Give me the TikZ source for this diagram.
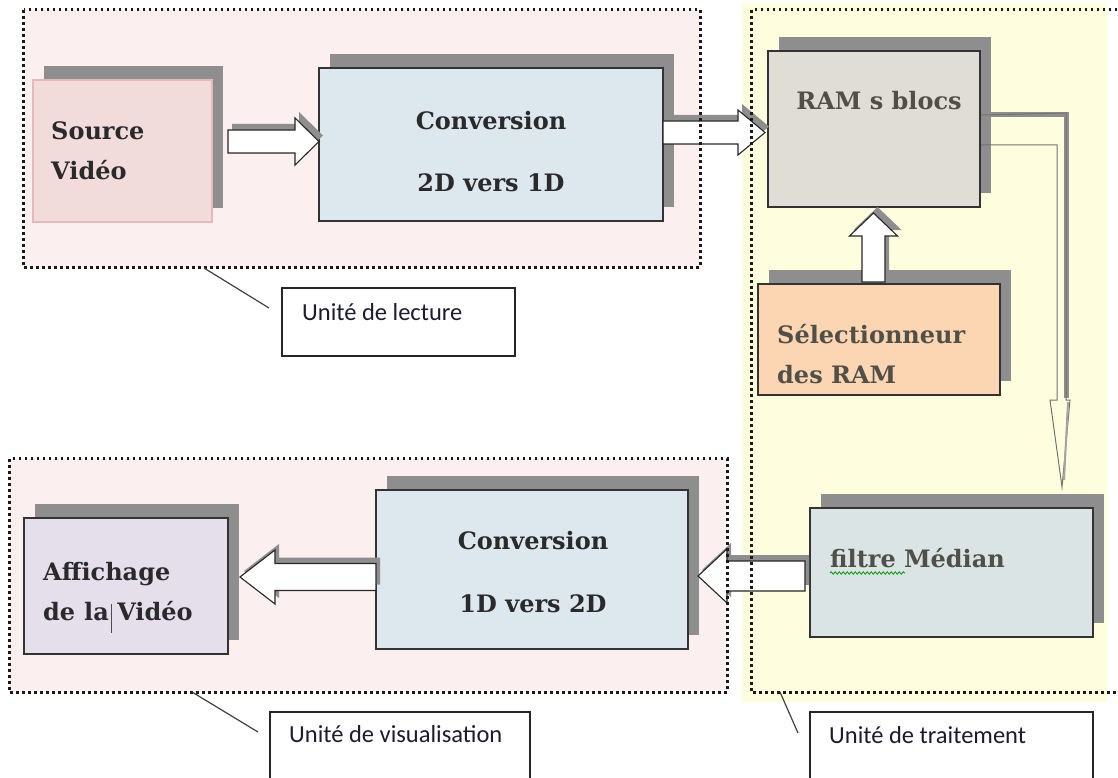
\documentclass[tikz,border=0pt]{standalone}
\usepackage{fontspec}
\newfontfamily\calib{Carlito}
\newfontfamily\boxfont{DejaVu Serif}
\usetikzlibrary{calc,shadows,decorations.pathmorphing}
\definecolor{pinkbg}{HTML}{FCEFEF}
\definecolor{yellowbg}{HTML}{FEFEDF}
\definecolor{shadowgray}{HTML}{8E8E8E}
\definecolor{srcfill}{HTML}{F2DCDB}
\definecolor{srcborder}{HTML}{E6B9B8}
\definecolor{convfill}{HTML}{DDE7EE}
\definecolor{ramfill}{HTML}{E0DDD6}
\definecolor{selfill}{HTML}{FCD5B2}
\definecolor{filtfill}{HTML}{DAE4E4}
\definecolor{afffill}{HTML}{E5DFEC}
\definecolor{txtdark}{HTML}{2A2A2A}
\definecolor{txtgray}{HTML}{505048}
\definecolor{calltxt}{HTML}{1C1C2E}
\newcommand{\blockarrow}[5]{% #1 start, #2 tip, #3 shaft half, #4 head half, #5 head length
  \coordinate (baS) at ($(#1)+(4,-6)$);
  \coordinate (baT) at ($(#2)+(4,-6)$);
  \coordinate (baH) at ($(baT)!#5!(baS)$);
  \fill[shadowgray] ($(baS)!#3!90:(baT)$) -- ($(baH)!#3!90:(baT)$) -- ($(baH)!#4!90:(baT)$) -- (baT) -- ($(baH)!#4!-90:(baT)$) -- ($(baH)!#3!-90:(baT)$) -- ($(baS)!#3!-90:(baT)$) -- cycle;
  \coordinate (baH) at ($(#2)!#5!(#1)$);
  \draw[barrow] ($(#1)!#3!90:(#2)$) -- ($(baH)!#3!90:(#2)$) -- ($(baH)!#4!90:(#2)$) -- (#2) -- ($(baH)!#4!-90:(#2)$) -- ($(baH)!#3!-90:(#2)$) -- ($(#1)!#3!-90:(#2)$) -- cycle;
}
\begin{document}
\begin{tikzpicture}[x=1pt,y=-1pt,
  grp/.style={draw=none, inner sep=0pt},
  dotb/.style={draw=black!90, line width=2.8pt, dash pattern=on 2.8pt off 3.2pt},
  box/.style={draw=black!80, line width=1.2pt, inner sep=0pt,
    drop shadow={shadow xshift=11pt, shadow yshift=14pt, opacity=1, fill=shadowgray}},
  barrow/.style={fill=white, draw=black!85, line width=1.1pt, line join=miter},
  lbl/.style={font=\boxfont\fontsize{24}{24}\bfseries\selectfont, text=txtdark, inner sep=0pt},
  lblg/.style={lbl, text=txtgray},
  callout/.style={draw=black!85, line width=1.4pt, fill=white, inner sep=0pt},
  ctext/.style={font=\calib\fontsize{24.5}{24.5}\selectfont, text=calltxt, inner sep=0pt, anchor=base west},
  cline/.style={draw=black!75, line width=1.2pt}
]
\useasboundingbox (0,0) rectangle (1118,778);
\clip (0,0) rectangle (1118,778);

% group backgrounds
\node[grp, fill=pinkbg, minimum width=676pt, minimum height=257pt] (glect) at (362,138.5) {};
\node[grp, fill=pinkbg, minimum width=717pt, minimum height=233pt] (gvisu) at (368.5,575.5) {};
\fill[yellowbg] (742,3) rectangle (1107,702);
\node[grp, minimum width=376pt, minimum height=682pt] (gtrait) at (940,351) {};

% boxes
\node[box, draw=srcborder, fill=srcfill, minimum width=179pt, minimum height=142pt] (src) at (122.5,151) {};
\node[box, fill=convfill, minimum width=344pt, minimum height=153pt] (conv1) at (491,144.5) {};
\node[box, fill=ramfill, minimum width=212pt, minimum height=156pt] (ram) at (874,129) {};
\node[box, fill=selfill, minimum width=242pt, minimum height=111pt] (sel) at (879,339.5) {};
\node[box, fill=filtfill, minimum width=283pt, minimum height=129pt] (filt) at (951.5,572.5) {};
\node[box, fill=convfill, minimum width=312pt, minimum height=159pt] (conv2) at (532,569.5) {};
\node[box, fill=afffill, minimum width=204pt, minimum height=136pt] (aff) at (126,586) {};

% block arrows
\coordinate (a1s) at (228,141.5);
\coordinate (a1t) at (319,141.5);
\blockarrow{a1s}{a1t}{11.5pt}{23.5pt}{24pt}
\coordinate (a2s) at (663,132.5);
\coordinate (a2t) at (765,132.5);
\blockarrow{a2s}{a2t}{11.5pt}{22.5pt}{27pt}
\coordinate (a3s) at (873.5,282);
\coordinate (a3t) at (873.5,213);
\blockarrow{a3s}{a3t}{11.5pt}{24pt}{23pt}
\coordinate (a4s) at (805,576);
\coordinate (a4t) at (698,576);
\blockarrow{a4s}{a4t}{15pt}{27pt}{29pt}
\coordinate (a5s) at (376,577);
\coordinate (a5t) at (240,577);
\blockarrow{a5s}{a5t}{13.5pt}{27pt}{35pt}

% elbow arrow from RAM to filtre
\coordinate (e1) at (981,115);
\coordinate (e2) at (981,145);
\coordinate (etip) at (1062,487);
\draw[shadowgray, line width=5pt, line join=miter] (e1) -- (1066,115) -- (1066,398);
\draw[black!55, line width=1pt, line join=miter] (e1) -- (1066,113) -- (1066,400) -- (1070,400) -- (etip) -- (1050,400) -- (1057,400) -- (1057,145) -- (e2);
\draw[shadowgray!80, line width=2pt] (1068,402) -- (1064,480);

% group borders (on top of arrows)
\draw[dotb] (glect.north west) rectangle (glect.south east);
\draw[dotb] (gvisu.north west) rectangle (gvisu.south east);
\draw[dotb] (gtrait.north west) rectangle (gtrait.south east);

% box texts
\node[lbl, anchor=base west] (tsrc1) at (51,140) {Source};
\node[lbl, anchor=base west] (tsrc2) at (51,180) {Vidéo};
\node[lbl, anchor=base] (tc11) at (491,130) {Conversion};
\node[lbl, anchor=base] (tc12) at (491,192) {2D vers 1D};
\node[lblg, anchor=base] (tram) at (879,110) {RAM s blocs};
\node[lblg, anchor=base west] (tsel1) at (777,343) {Sélectionneur};
\node[lblg, anchor=base west] (tsel2) at (777,383) {des RAM};
\node[lblg, anchor=base west] (tfilt) at (830,567) {filtre Médian};
\draw[green!60!black, line width=0.8pt, decorate, decoration={snake, amplitude=1.2pt, segment length=4pt}] (830,573) -- (905,573);
\node[lbl, anchor=base] (tc21) at (533,549) {Conversion};
\node[lbl, anchor=base] (tc22) at (533,612) {1D vers 2D};
\node[lbl, anchor=base west] (taff1) at (43,580) {Affichage};
\node[lbl, anchor=base west] (taff2) at (43,620) {de\hspace{9pt}la Vidéo};
\draw[black!70, line width=1pt] (111,604) -- (111,633);

% callouts
\node[callout, minimum width=233pt, minimum height=68pt] (cl) at (398.5,322) {};
\node[ctext] (tcl) at (302,320) {Unité de lecture};
\coordinate (pl1) at (204,268);
\coordinate (pl2) at (269,308);
\draw[cline] (pl1) -- (pl2);

\node[callout, minimum width=260pt, minimum height=90pt] (cv) at (400,757) {};
\node[ctext] (tcv) at (289,742) {Unité de visualisation};
\coordinate (pv1) at (192,692);
\coordinate (pv2) at (258,732);
\draw[cline] (pv1) -- (pv2);

\node[callout, minimum width=283pt, minimum height=90pt] (ct) at (951.5,757) {};
\node[ctext] (tct) at (829,743) {Unité de traitement};
\coordinate (pt1) at (780,692);
\coordinate (pt2) at (798,733);
\draw[cline] (pt1) -- (pt2);
\end{tikzpicture}
\end{document}
